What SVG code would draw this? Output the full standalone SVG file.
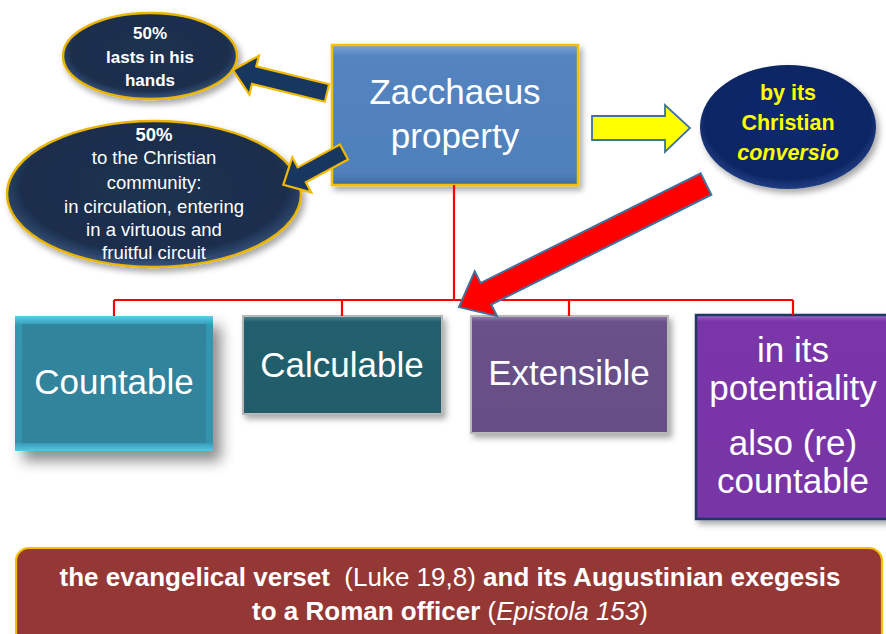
<svg xmlns="http://www.w3.org/2000/svg" width="886" height="634" viewBox="0 0 886 634">
<defs>
  <style>
    text { font-family: "Liberation Sans", Arial, sans-serif; text-anchor: middle; }
    .big { font-size: 35px; fill: #ffffff; }
    .ell { font-size: 18.5px; fill: #ffffff; }
    .ell1 { font-size: 17px; fill: #ffffff; font-weight: bold; }
    .b { font-weight: bold; }
    .yel { font-size: 21.5px; fill: #ffff00; font-weight: bold; }
    .ban { font-size: 26px; fill: #ffffff; font-weight: bold; }
    .red { stroke: #ff0000; stroke-width: 2.2; fill: none; }
    .darrow { fill: #17375e; stroke: #f2b800; stroke-width: 2.2; stroke-linejoin: miter; }
  </style>
  <filter id="sh" x="-20%" y="-20%" width="150%" height="160%">
    <feDropShadow dx="3" dy="4" stdDeviation="3" flood-color="#000" flood-opacity="0.35"/>
  </filter>
  <filter id="shBig" x="-20%" y="-20%" width="160%" height="160%">
    <feDropShadow dx="8" dy="10" stdDeviation="7" flood-color="#000" flood-opacity="0.45"/>
  </filter>
  <radialGradient id="navy" cx="50%" cy="45%" r="55%">
    <stop offset="0" stop-color="#1d3150"/>
    <stop offset="0.82" stop-color="#1a2e4c"/>
    <stop offset="1" stop-color="#3a5580"/>
  </radialGradient>
  <radialGradient id="navy3" cx="50%" cy="45%" r="55%">
    <stop offset="0" stop-color="#0e2a6c"/>
    <stop offset="0.85" stop-color="#0c2664"/>
    <stop offset="1" stop-color="#233f85"/>
  </radialGradient>
  <linearGradient id="zac" x1="0" y1="0" x2="0" y2="1">
    <stop offset="0" stop-color="#7aa2d6"/>
    <stop offset="0.08" stop-color="#5484c0"/>
    <stop offset="0.92" stop-color="#4f80bc"/>
    <stop offset="1" stop-color="#3e6aa0"/>
  </linearGradient>
  <linearGradient id="cnt" x1="0" y1="0" x2="0" y2="1">
    <stop offset="0" stop-color="#58d0ee"/>
    <stop offset="0.07" stop-color="#3596b2"/>
    <stop offset="0.93" stop-color="#3592ad"/>
    <stop offset="1" stop-color="#52c8e8"/>
  </linearGradient>
  <linearGradient id="cal" x1="0" y1="0" x2="0" y2="1">
    <stop offset="0" stop-color="#4f8a98"/>
    <stop offset="0.06" stop-color="#245f6e"/>
    <stop offset="1" stop-color="#235c6b"/>
  </linearGradient>
  <linearGradient id="ext" x1="0" y1="0" x2="0" y2="1">
    <stop offset="0" stop-color="#9080ad"/>
    <stop offset="0.05" stop-color="#6a5189"/>
    <stop offset="1" stop-color="#664e85"/>
  </linearGradient>
  <linearGradient id="pur" x1="0" y1="0" x2="0" y2="1">
    <stop offset="0" stop-color="#a36ccc"/>
    <stop offset="0.03" stop-color="#7a35a8"/>
    <stop offset="1" stop-color="#7834a6"/>
  </linearGradient>
</defs>

<g id="node-hands">
  <ellipse cx="150" cy="56" rx="87" ry="43" fill="url(#navy)" stroke="#eab500" stroke-width="2.5" filter="url(#sh)"/>
  <text class="ell1" x="150" y="39">50%</text>
  <text class="ell1" x="150" y="63">lasts in his</text>
  <text class="ell1" x="150" y="86">hands</text>
</g>

<g id="node-community">
  <ellipse cx="154" cy="194" rx="147" ry="73" fill="url(#navy)" stroke="#eab500" stroke-width="2.5" filter="url(#sh)"/>
  <text class="ell b" x="154" y="141" font-size="17">50%</text>
  <text class="ell" x="154" y="164">to the Christian</text>
  <text class="ell" x="154" y="189">community:</text>
  <text class="ell" x="154" y="213">in circulation, entering</text>
  <text class="ell" x="154" y="236">in a virtuous and</text>
  <text class="ell" x="154" y="259">fruitful circuit</text>
</g>

<g id="node-zacchaeus">
  <rect x="332" y="45" width="246" height="140" fill="url(#zac)" stroke="#f2c200" stroke-width="2.5" filter="url(#sh)"/>
  <text class="big" x="455" y="104">Zacchaeus</text>
  <text class="big" x="455" y="148">property</text>
</g>

<g id="node-conversio">
  <ellipse cx="788" cy="127" rx="88" ry="62" fill="url(#navy3)" filter="url(#sh)"/>
  <text class="yel" x="788" y="100">by its</text>
  <text class="yel" x="788" y="130">Christian</text>
  <text class="yel" x="788" y="160" font-style="italic">conversio</text>
</g>

<g id="node-countable">
  <rect x="15" y="316" width="198" height="135" fill="url(#cnt)" filter="url(#shBig)"/>
  <rect x="22" y="324" width="184" height="119" fill="#31849b"/>
  <text class="big" x="114" y="394" font-size="37">Countable</text>
</g>

<g id="node-calculable">
  <rect x="243" y="316" width="199" height="98" fill="url(#cal)" stroke="#b8b8b8" stroke-width="2" filter="url(#sh)"/>
  <text class="big" x="342" y="377" font-size="36.5">Calculable</text>
</g>

<g id="node-extensible">
  <rect x="471" y="316" width="197" height="117" fill="url(#ext)" stroke="#b8b8b8" stroke-width="2" filter="url(#sh)"/>
  <text class="big" x="569" y="385" font-size="36.5">Extensible</text>
</g>

<g id="node-recountable">
  <rect x="696" y="315" width="196" height="204" fill="url(#pur)" stroke="#1f3864" stroke-width="2.5" filter="url(#sh)"/>
  <text class="big" x="793" y="362">in its</text>
  <text class="big" x="793" y="400">potentiality</text>
  <text class="big" x="793" y="455">also (re)</text>
  <text class="big" x="793" y="493">countable</text>
</g>

<g id="node-banner">
  <rect x="16" y="548" width="866" height="100" rx="13" fill="#953735" stroke="#f5c000" stroke-width="2.2"/>
  <text class="ban" x="450" y="586">the evangelical verset&#160; <tspan font-weight="normal">(Luke 19,8)</tspan> and its Augustinian exegesis</text>
  <text class="ban" x="450" y="620">to a Roman officer <tspan font-weight="normal">(<tspan font-style="italic">Epistola 153</tspan>)</tspan></text>
</g>

<g id="connectors">
  <path class="red" d="M454 185 V300 M114 300 H793 M114 300 V316 M342 300 V316 M569 300 V316 M793 300 V315"/>
  <polygon class="darrow" points="0,-9 75,-9 75,-20 97,0 75,20 75,9 0,9" transform="translate(327,93) rotate(193.75)"/>
  <polygon class="darrow" points="0,-8.5 48,-8.5 48,-20 69,0 48,20 48,8.5 0,8.5" transform="translate(344,152) rotate(151.6)"/>
  <polygon points="592,116 665,116 665,105 690,128 665,152 665,140 592,140" fill="#ffff00" stroke="#41719c" stroke-width="1.8"/>
  <polygon points="0,-12 246,-12 246,-25 276,0 246,25 246,12 0,12" transform="translate(706,184) rotate(153.5)" fill="#ff0000" stroke="#41719c" stroke-width="2"/>
</g>
</svg>
